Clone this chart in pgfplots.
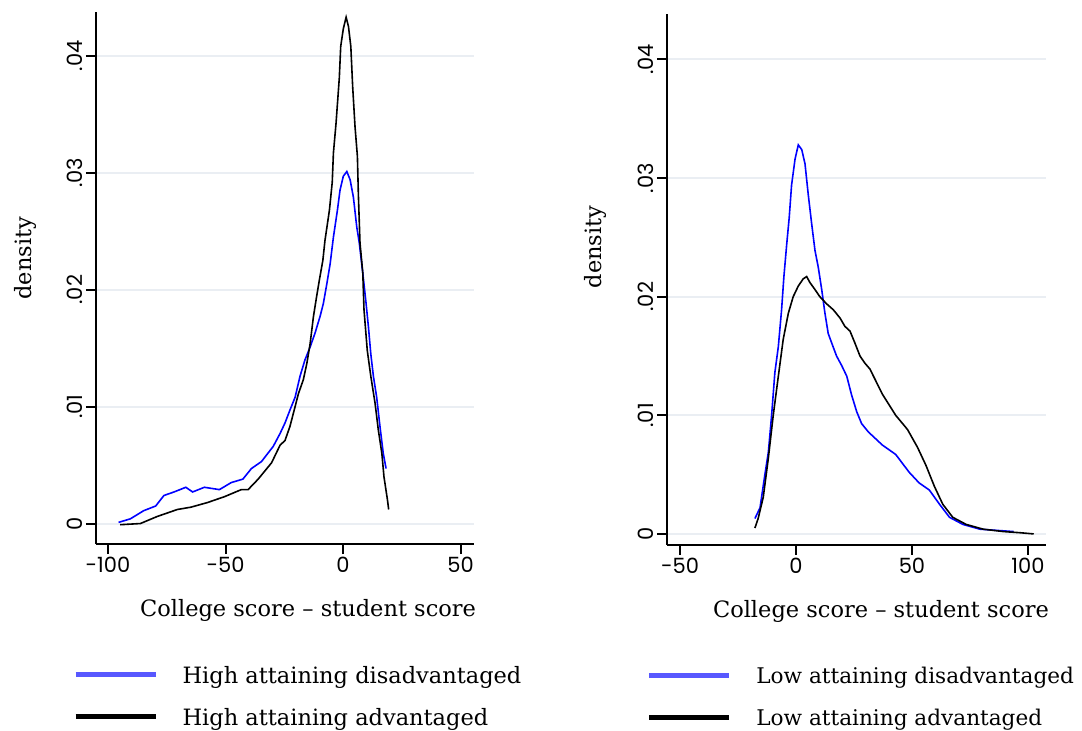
\documentclass[border=0pt]{standalone}
\usepackage{pgfplots}
\usepackage{pgfplotstable}
\pgfplotsset{compat=1.18}
\usepackage{fontspec}
\setmainfont{DejaVu Serif}
\newfontfamily\tickfont{Poppins}
\definecolor{gridc}{RGB}{234,238,243}
\definecolor{legblue}{RGB}{88,88,255}
\definecolor{curveblue}{RGB}{0,0,255}

\pgfplotstableread{
x y
-95.5 0.0001
-90.5 0.0004
-84.8 0.0011
-79.7 0.0015
-76.2 0.0024
-71.9 0.0027
-66.9 0.0031
-64.0 0.0027
-59.0 0.0031
-52.6 0.0029
-47.6 0.0035
-42.6 0.0038
-39.0 0.0047
-34.7 0.0053
-29.7 0.0066
-26.8 0.0077
-24.7 0.0086
-22.6 0.0097
-20.4 0.0108
-18.3 0.0126
-16.2 0.0140
-14.0 0.0151
-11.9 0.0163
-9.8 0.0177
-8.4 0.0188
-6.9 0.0205
-5.5 0.0222
-4.1 0.0245
-2.4 0.0268
-1.3 0.0285
0.1 0.0297
1.6 0.0301
3.0 0.0294
4.4 0.0279
5.8 0.0254
6.9 0.0240
8.4 0.0214
9.8 0.0188
10.8 0.0168
11.8 0.0145
12.9 0.0126
14.3 0.0108
15.7 0.0083
17.1 0.0060
18.3 0.0047
}\highdis

\pgfplotstableread{
x y
-94.8 -0.0001
-86.2 0.0000
-79.1 0.0006
-70.5 0.0012
-64.7 0.0014
-57.6 0.0018
-50.4 0.0023
-43.3 0.0029
-40.4 0.0029
-36.1 0.0038
-30.4 0.0052
-26.8 0.0067
-24.7 0.0071
-22.6 0.0083
-20.4 0.0100
-19.0 0.0111
-16.9 0.0123
-15.4 0.0137
-14.0 0.0154
-12.6 0.0177
-11.5 0.0191
-10.1 0.0208
-8.6 0.0225
-7.7 0.0242
-5.8 0.0268
-4.6 0.0292
-4.1 0.0317
-3.0 0.0342
-1.6 0.0381
-1.0 0.0408
0.1 0.0423
1.3 0.0433
2.3 0.0425
3.3 0.0408
4.1 0.0373
5.1 0.0339
6.1 0.0314
6.5 0.0282
7.2 0.0240
8.4 0.0214
8.9 0.0183
10.3 0.0148
11.8 0.0126
13.6 0.0103
15.0 0.0080
16.5 0.0060
17.4 0.0040
18.9 0.0020
19.4 0.0012
}\highadv

\pgfplotstableread{
x y
-17.7 0.0013
-15.5 0.0022
-13.4 0.0050
-11.9 0.0069
-10.5 0.0100
-9.1 0.0136
-7.6 0.0158
-6.2 0.0189
-5.2 0.0217
-4.0 0.0244
-2.9 0.0267
-1.9 0.0294
-0.4 0.0316
1.0 0.0328
2.5 0.0324
3.9 0.0312
5.3 0.0286
6.8 0.0261
8.2 0.0239
9.6 0.0225
11.1 0.0206
12.5 0.0186
13.9 0.0169
15.4 0.0161
17.5 0.0150
19.7 0.0142
21.9 0.0133
24.0 0.0117
26.2 0.0103
28.3 0.0093
31.2 0.0086
37.2 0.0075
43.0 0.0067
48.8 0.0052
53.1 0.0043
57.5 0.0037
61.9 0.0025
66.2 0.0014
72.0 0.0008
79.3 0.0004
86.5 0.0003
93.8 0.0002
}\lowdis

\pgfplotstableread{
x y
-17.7 0.0005
-16.3 0.0013
-14.1 0.0031
-11.9 0.0064
-9.8 0.0100
-7.6 0.0133
-5.5 0.0164
-3.3 0.0186
-1.2 0.0200
1.0 0.0209
3.1 0.0215
4.6 0.0217
6.0 0.0212
8.2 0.0206
10.3 0.0200
13.2 0.0194
16.1 0.0189
19.0 0.0182
21.1 0.0175
23.3 0.0171
25.4 0.0161
27.6 0.0150
29.7 0.0144
31.9 0.0139
37.2 0.0118
43.0 0.0100
48.1 0.0088
52.4 0.0073
56.0 0.0058
59.7 0.0040
63.3 0.0025
67.6 0.0014
73.4 0.0008
80.7 0.0004
89.4 0.0002
96.7 0.0001
102.5 0.0000
}\lowadv

\pgfplotsset{
  dens/.style={
    scale only axis,
    axis lines=left,
    axis line style={line width=2bp, -},
    every tick/.style={line width=2bp, black},
    major tick length=10bp,
    tick align=outside,
    ymajorgrids,
    grid style={line width=2bp, gridc},
    ytick={0,0.01,0.02,0.03,0.04},
    yticklabels={0,.01,.02,.03,.04},
    scaled y ticks=false,
    scaled x ticks=false,
    tick label style={font=\tickfont\fontsize{21bp}{21bp}\selectfont},
    yticklabel style={rotate=90, anchor=south},
    label style={font=\fontsize{22.5bp}{27bp}\selectfont},
    xlabel={College score – student score},
    ylabel={density},
    legend cell align=left,
    legend style={draw=none, fill=none, inner sep=0pt, anchor=north west, row sep=20bp,
      cells={anchor=west},
      nodes={inner sep=0pt, text height=17bp, text depth=5bp}},
  },
  blueleg/.style={legend image code/.code={\draw[legblue, line width=4.7bp] (0bp,2.5bp) -- (80bp,2.5bp); \path[draw=none] (0bp,0bp) -- (107bp,0bp);}},
  blackleg/.style={legend image code/.code={\draw[black, line width=4.7bp] (0bp,2.5bp) -- (80bp,2.5bp); \path[draw=none] (0bp,0bp) -- (107bp,0bp);}},
}

\begin{document}
\begin{tikzpicture}
\useasboundingbox (0bp,0bp) rectangle (1082bp,731bp);
\begin{axis}[dens,
  at={(96bp,187bp)}, anchor=south west,
  width=378bp, height=531.5bp,
  xmin=-105.1, xmax=55.7, ymin=-0.00175, ymax=0.0437,
  xtick={-100,-50,0,50}, xticklabels={-100,-50,0,50},
  xlabel style={at={(axis description cs:0.561,-0.1373)}, anchor=base},
  ylabel style={at={(axis description cs:-0.187,0.538)}, anchor=center},
  legend style={at={(axis description cs:-0.0608,-0.2295)}, font=\fontsize{22.5bp}{27bp}\selectfont},
]
\addplot[curveblue, line width=1.6bp, blueleg] table {\highdis};
\addlegendentry{High attaining disadvantaged}
\addplot[black, line width=1.6bp, blackleg] table {\highadv};
\addlegendentry{High attaining advantaged}
\end{axis}
\begin{axis}[dens,
  at={(667bp,186.4bp)}, anchor=south west,
  width=379bp, height=531bp,
  xmin=-55.6, xmax=107.8, ymin=-0.0009, ymax=0.04387,
  xtick={-50,0,50,100}, xticklabels={-50,0,50,100},
  xlabel style={at={(axis description cs:0.5646,-0.1382)}, anchor=base},
  ylabel style={at={(axis description cs:-0.189,0.5605)}, anchor=center},
  legend style={at={(axis description cs:-0.0533,-0.2295)}, font=\fontsize{21.6bp}{26bp}\selectfont},
]
\addplot[curveblue, line width=1.6bp, blueleg] table {\lowdis};
\addlegendentry{Low attaining disadvantaged}
\addplot[black, line width=1.6bp, blackleg] table {\lowadv};
\addlegendentry{Low attaining advantaged}
\end{axis}
\end{tikzpicture}
\end{document}
